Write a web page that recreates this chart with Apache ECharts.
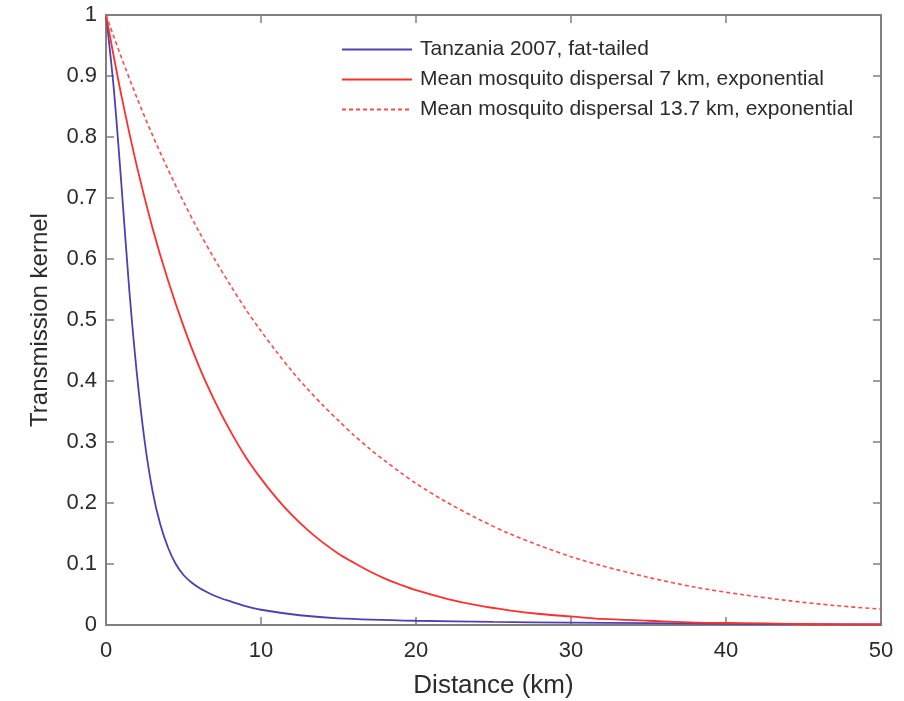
<!DOCTYPE html>
<html>
<head>
<meta charset="utf-8">
<script src="https://cdn.jsdelivr.net/npm/echarts@6/dist/echarts.min.js"></script>
<style>
  html, body { margin: 0; padding: 0; background: #fff; }
  #chart { width: 904px; height: 701px; }
</style>
</head>
<body>
<div id="chart"></div>
<script>
// 读图估计的数据
var names = ['Tanzania 2007, fat-tailed', 'Mean mosquito dispersal 7 km, exponential', 'Mean mosquito dispersal 13.7 km, exponential'];

// fat-tailed kernel
var fatDist = [0, 0.5, 1, 1.5, 2, 2.5, 3, 3.5, 4, 4.5, 5, 5.5, 6, 6.5, 7, 7.5, 8, 9, 10, 12.5, 15, 20, 25, 30, 40, 50];
var fatVal = [1, 0.88, 0.72, 0.55, 0.41, 0.3, 0.22, 0.165, 0.127, 0.1, 0.082, 0.07, 0.061, 0.054, 0.048, 0.043, 0.039, 0.031, 0.025, 0.016, 0.011, 0.007, 0.005, 0.004, 0.002, 0.001];

// exponential kernels share the same distances
var expDist = [0, 1, 2, 3, 4, 5, 6, 7, 8, 9, 10, 11, 12, 13, 14, 15, 16, 17, 18, 19, 20, 22, 24, 26, 28, 30, 32, 35, 38, 41, 44, 47, 50];
var exp7Val = [1, 0.867, 0.751, 0.651, 0.565, 0.490, 0.424, 0.368, 0.319, 0.276, 0.240, 0.208, 0.180, 0.156, 0.135, 0.117, 0.102, 0.088, 0.076, 0.066, 0.057, 0.043, 0.032, 0.024, 0.018, 0.014, 0.010, 0.007, 0.004, 0.003, 0.002, 0.001, 0.001];
var exp137Val = [1, 0.930, 0.864, 0.803, 0.747, 0.694, 0.645, 0.600, 0.558, 0.518, 0.482, 0.448, 0.416, 0.387, 0.360, 0.335, 0.311, 0.289, 0.269, 0.250, 0.232, 0.201, 0.174, 0.150, 0.130, 0.112, 0.097, 0.078, 0.062, 0.050, 0.040, 0.032, 0.026];

function pairs(xs, ys) {
    var out = [];
    for (var i = 0; i < xs.length; i++) out.push([xs[i], ys[i]]);
    return out;
}

var axisColor = '#808080';
var textColor = '#2b2b2b';
var font = 'Liberation Sans, Arial, sans-serif';

function frameAxis(base, show, margin) {
    return Object.assign({
        type: 'value',
        axisLine: { show: true, onZero: false, lineStyle: { color: axisColor, width: 2 } },
        axisTick: { show: true, inside: true, length: 8, lineStyle: { color: axisColor, width: 1.5 } },
        splitLine: { show: false },
        axisLabel: { show: show, color: textColor, fontSize: 22, fontFamily: font, margin: margin || 10 }
    }, base);
}

var dom = echarts.init(document.getElementById('chart'));
var option = {
    backgroundColor: '#fff',
    animation: false,
    grid: { left: 106, right: 23, top: 15, bottom: 76, outerBoundsMode: 'none' },
    legend: {
        orient: 'vertical',
        left: 336,
        top: 34,
        itemWidth: 70,
        itemHeight: 12,
        itemGap: 9,
        itemStyle: { opacity: 0 },
        textStyle: { color: textColor, fontSize: 21, fontFamily: font, padding: [0, 0, 0, 3] },
        data: names
    },
    xAxis: [
        frameAxis({ min: 0, max: 50, interval: 10, position: 'bottom',
            name: 'Distance (km)', nameLocation: 'middle', nameGap: 48,
            nameTextStyle: { color: textColor, fontSize: 26, fontFamily: font } }, true, 15),
        frameAxis({ min: 0, max: 50, interval: 10, position: 'top' }, false)
    ],
    yAxis: [
        frameAxis({ min: 0, max: 1, interval: 0.1, position: 'left',
            name: 'Transmission kernel', nameLocation: 'middle', nameGap: 54,
            nameTextStyle: { color: textColor, fontSize: 24, fontFamily: font } }, true, 9),
        frameAxis({ min: 0, max: 1, interval: 0.1, position: 'right' }, false)
    ],
    series: [
        {
            name: names[0], type: 'line', showSymbol: false, symbol: 'none', smooth: 0.3,
            lineStyle: { color: '#4f3fb3', width: 1.8 }, itemStyle: { color: '#4f3fb3' },
            data: pairs(fatDist, fatVal)
        },
        {
            name: names[1], type: 'line', showSymbol: false, symbol: 'none', smooth: 0.3,
            lineStyle: { color: '#ff2e2e', width: 1.8 }, itemStyle: { color: '#ff2e2e' },
            data: pairs(expDist, exp7Val)
        },
        {
            name: names[2], type: 'line', showSymbol: false, symbol: 'none', smooth: 0.3,
            lineStyle: { color: '#ff4a4a', width: 1.6, type: [4, 3] }, itemStyle: { color: '#ff4a4a' },
            data: pairs(expDist, exp137Val)
        }
    ]
};
dom.setOption(option);
</script>
</body>
</html>
